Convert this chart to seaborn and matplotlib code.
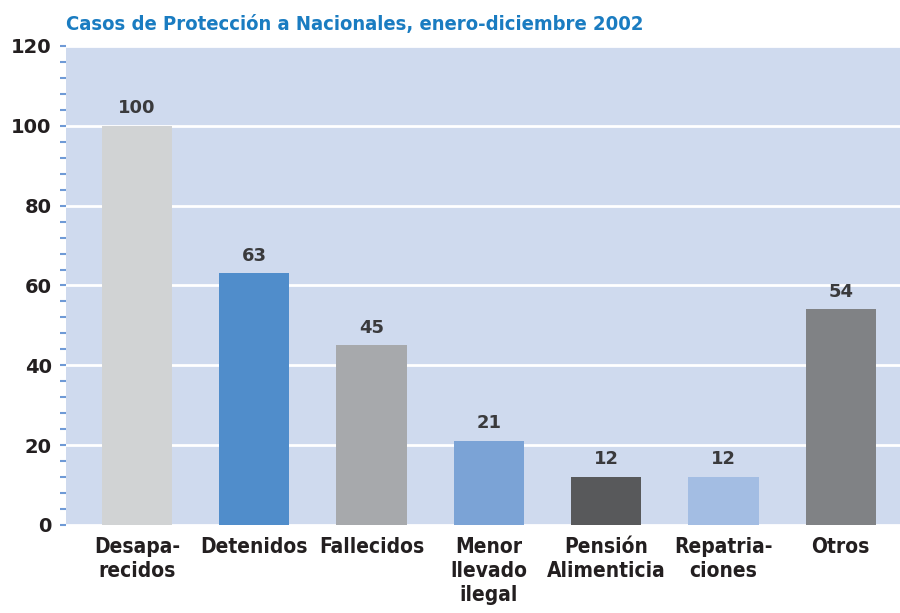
import pandas as pd
import matplotlib.pyplot as plt
import seaborn as sns

# data
categorias = ['Desapa-\nrecidos', 'Detenidos', 'Fallecidos', 'Menor\nllevado\nilegal',
              'Pensión\nAlimenticia', 'Repatria-\nciones', 'Otros']
casos = [100, 63, 45, 21, 12, 12, 54]
colores = ['#d1d3d4', '#508dcb', '#a7a9ac', '#7ba3d6', '#58595b', '#a3bde3', '#808285']
yticks = [0, 20, 40, 60, 80, 100, 120]

df = pd.DataFrame({'Categoria': categorias, 'Casos': casos})

sns.set_style('white')
plt.rcParams['font.family'] = ['DejaVu Sans']

fig = plt.figure(figsize=(9, 6.13), dpi=100)
ax = fig.add_axes([0.0733, 0.1436, 0.9267, 0.7814])
ax.set_facecolor('#cfdaee')

sns.barplot(data=df, x='Categoria', y='Casos', hue='Categoria', palette=colores,
            width=0.6, legend=False, ax=ax, saturation=1, linewidth=0, zorder=3)

#value labels above bars
for i, v in enumerate(casos):
    ax.text(i, v + 2.2, str(v), ha='center', va='bottom', fontsize=13,
            fontweight='bold', color='#3a3a3c')

ax.set_xlim(-0.605, 6.505)
ax.set_ylim(0, 120)
ax.set_yticks(yticks)
ax.set_yticks([t for t in range(0, 121, 4)], minor=True)
ax.yaxis.grid(True, color='white', linewidth=2, zorder=1)
ax.set_axisbelow(True)
for s in ax.spines.values():
    s.set_visible(False)

ax.tick_params(axis='y', which='both', left=True, color='#6f9ad6', width=1.5,
               length=4.3, pad=6, labelsize=14, labelcolor='#231f20')
ax.tick_params(axis='x', length=0, pad=9, labelsize=15, labelcolor='#231f20')
for lab in ax.get_yticklabels():
    lab.set_fontweight('bold')
for lab in ax.get_xticklabels():
    lab.set_fontweight('bold')
    lab.set_fontstretch('condensed')
    lab.set_linespacing(1.25)

ax.set_xlabel('')
ax.set_ylabel('')

fig.text(0.0733, 0.945, 'Casos de Protección a Nacionales, enero-diciembre 2002',
         fontsize=14.5, fontweight='bold', fontstretch='condensed', color='#1a7cc1',
         ha='left', va='bottom')

plt.savefig('out.png', dpi=100)
